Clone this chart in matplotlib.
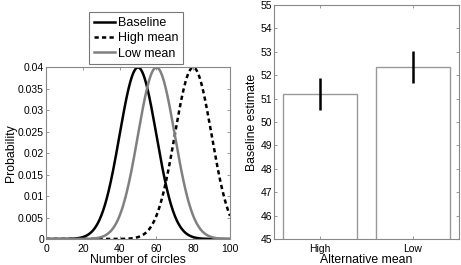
import numpy as np
import matplotlib
matplotlib.use("Agg")
import matplotlib.pyplot as plt

# Left panel: Gaussian distributions (means, common sd)
series_names = ["Baseline", "High mean", "Low mean"]
series_means = [50, 80, 60]
series_sd = 10
series_colors = ["black", "black", "#808080"]
series_styles = ["-", "--", "-"]

# Right panel: bars
bar_categories = ["High", "Low"]
bar_values = [51.2, 52.35]
bar_errors = [0.7, 0.67]

plt.rcParams['font.family'] = ['Liberation Sans', 'DejaVu Sans']

fig = plt.figure(figsize=(4.61, 2.65), dpi=100)
W, H = 461, 265
ax1 = fig.add_axes([46 / W, 1 - 239 / H, (230 - 46) / W, (239 - 67) / H])
ax2 = fig.add_axes([274 / W, 1 - 239 / H, (459 - 274) / W, (239 - 5) / H])

x = np.linspace(0, 100, 501)
for name, mu, c, ls in zip(series_names, series_means, series_colors, series_styles):
    y = np.exp(-0.5 * ((x - mu) / series_sd) ** 2) / (series_sd * np.sqrt(2 * np.pi))
    line, = ax1.plot(x, y, color=c, linestyle=ls, linewidth=1.8, label=name)
    if ls == "--":
        line.set_dashes((1.7, 1.3))
ax1.set_xlim(0, 100)
ax1.set_ylim(0, 0.04)
ax1.set_xticks([0, 20, 40, 60, 80, 100])
ax1.set_yticks([0, 0.005, 0.01, 0.015, 0.02, 0.025, 0.03, 0.035, 0.04])
ax1.set_yticklabels(["0", "0.005", "0.01", "0.015", "0.02", "0.025", "0.03", "0.035", "0.04"])
ax1.set_xlabel("Number of circles", fontsize=8.8, labelpad=0)
ax1.set_ylabel("Probability", fontsize=8.8, labelpad=1)
leg = ax1.legend(loc='lower center', bbox_to_anchor=(0.49, 1.015), fontsize=9,
                 frameon=True, fancybox=False, edgecolor='#555555', handlelength=1.7,
                 handletextpad=0.2, borderpad=0.38, labelspacing=0.26, borderaxespad=0)
leg.get_frame().set_linewidth(0.8)

xpos = np.arange(1, len(bar_categories) + 1)
ax2.bar(xpos, bar_values, width=0.8, color='white', edgecolor='#999999', linewidth=1.0)
ax2.errorbar(xpos, bar_values, yerr=bar_errors, fmt='none', ecolor='black',
             elinewidth=1.8, capsize=0)
ax2.set_xlim(0.5, 2.5)
ax2.set_ylim(45, 55)
ax2.set_yticks(range(45, 56))
ax2.set_xticks(xpos)
ax2.set_xticklabels(bar_categories)
ax2.set_xlabel("Alternative mean", fontsize=8.8, labelpad=0)
ax2.set_ylabel("Baseline estimate", fontsize=8.8, labelpad=2)

for ax in (ax1, ax2):
    for sp in ax.spines.values():
        sp.set_color('#888888')
        sp.set_linewidth(0.8)
    ax.tick_params(direction='in', top=True, right=True, length=2.5, width=0.6,
                   color='#888888', labelsize=7.5)
    ax.tick_params(axis='x', pad=3.5)
    ax.tick_params(axis='y', pad=1.5)

fig.savefig("out.png", dpi=100)
